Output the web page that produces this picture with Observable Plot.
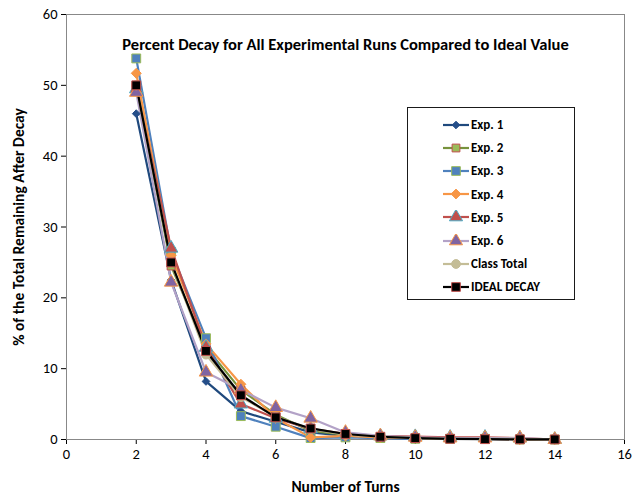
<!DOCTYPE html>
<html><head><meta charset="utf-8">
<script src="https://cdn.jsdelivr.net/npm/d3@7"></script>
<script src="https://cdn.jsdelivr.net/npm/@observablehq/plot@0.6"></script>
<style>
body{margin:0;background:#fff;font-family:Carlito,Lato,"Liberation Sans",Arial,sans-serif;}
#wrap{position:relative;width:640px;height:501px;}
#legend{position:absolute;left:407px;top:107px;width:168px;height:193px;border:1.5px solid #1a1a1a;background:#fff;font-weight:bold;font-size:13px;box-sizing:border-box;padding-top:5px;}
.row{display:flex;align-items:center;height:23.2px;padding-left:35px;}
.row svg{margin-right:2px}
</style></head><body><div id="wrap"><div id="legend"></div></div>
<script>
const turns=[2,3,4,5,6,7,8,9,10,11,12,13,14];
const exp1=[46,22.5,8.2,4,2.5,1,0.5,0.3,0.1,0.1,0.1,0,0];
const exp2=[50,24.5,13,7,3.5,1.2,0.7,0.3,0.2,0.1,0.1,0.1,0];
const exp3=[53.8,26.5,14.3,3.3,1.8,0.2,0.3,0.2,0.1,0.1,0.1,0,0];
const exp4=[51.7,26,13.5,7.8,3,0.3,0.5,0.3,0.2,0.1,0.1,0,0];
const exp5=[49.5,27,13,5,3,1.5,0.8,0.5,0.4,0.3,0.3,0.2,0];
const exp6=[49,22.2,9.5,7,4.5,3,1,0.5,0.3,0.2,0.2,0.2,0];
const classTotal=[50,25,12,6,3.2,1.5,0.7,0.4,0.2,0.1,0.1,0.1,0];
const ideal=[50,25,12.5,6.25,3.125,1.5625,0.78,0.39,0.195,0.098,0.049,0.024,0.012];
const seriesNames=["Exp. 1","Exp. 2","Exp. 3","Exp. 4","Exp. 5","Exp. 6","Class Total","IDEAL DECAY"];
const seriesVals=[exp1,exp2,exp3,exp4,exp5,exp6,classTotal,ideal];
const lineCol=["#1F497D","#77933C","#4F81BD","#F79646","#C0504D","#B3A2C7","#C4BD97","#000000"];
const fillCol=["#254E89","#9BBB59","#4F81BD","#F79646","#C0504D","#8064A2","#C4BD97","#000000"];
const strokeCol=["#254E89","#C0504D","#9BBB59","#F79646","#4BACC6","#F79646","#C4BD97","#C0504D"];
const symbols=["diamond2","square","square","diamond2","triangle","triangle","circle","square"];
const sizes=[3.5,4.5,5,4.5,5,5,4.5,5];
const rows=[];
seriesNames.forEach((s,i)=>turns.forEach((t,j)=>rows.push({s,i,t,v:seriesVals[i][j]})));
const marks=[Plot.frame({stroke:"#888"})];
seriesNames.forEach((s,i)=>{
  const d=rows.filter(r=>r.i===i);
  marks.push(Plot.line(d,{x:"t",y:"v",stroke:lineCol[i],strokeWidth:2.2}));
});
seriesNames.forEach((s,i)=>{
  const d=rows.filter(r=>r.i===i);
  marks.push(Plot.dot(d,{x:"t",y:"v",symbol:()=>symbols[i],r:sizes[i],fill:fillCol[i],stroke:strokeCol[i],strokeWidth:1}));
});
marks.push(Plot.text(["Percent Decay for All Experimental Runs Compared to Ideal Value"],{frameAnchor:"top",dy:24,fontSize:16.5,fontWeight:"bold",fill:"#000"}));
const chart=Plot.plot({width:640,height:501,marginLeft:66,marginRight:16,marginTop:14,marginBottom:62,
  style:{fontFamily:"Carlito,Lato,'Liberation Sans',Arial,sans-serif",fontSize:"14.5px",color:"#000"},
  x:{domain:[0,16],ticks:d3.range(0,17,2),tickSize:5,label:"Number of Turns",labelAnchor:"center",labelArrow:"none",labelOffset:52},
  y:{domain:[0,60],ticks:d3.range(0,61,10),tickSize:5,label:"% of the Total Remaining After Decay",labelAnchor:"center",labelArrow:"none",labelOffset:54},
  symbol:{type:"identity"},
  marks});
d3.select(chart).selectAll("[aria-label='x-axis label'] text,[aria-label='y-axis label'] text").style("font-weight","bold").style("font-size","15.5px");
document.getElementById("wrap").prepend(chart);
const lg=document.getElementById("legend");
const symMap={diamond2:d3.symbolDiamond2,square:d3.symbolSquare,triangle:d3.symbolTriangle,circle:d3.symbolCircle};
seriesNames.forEach((s,i)=>{
  const sym=d3.symbol(symMap[symbols[i]],sizes[i]*sizes[i]*3)();
  lg.insertAdjacentHTML("beforeend",`<div class="row"><svg width="26" height="14"><line x1="0" x2="26" y1="7" y2="7" stroke="${lineCol[i]}" stroke-width="2.2"/><path d="${sym}" transform="translate(13,7)" fill="${fillCol[i]}" stroke="${strokeCol[i]}"/></svg>${s}</div>`);
});
</script></body></html>
